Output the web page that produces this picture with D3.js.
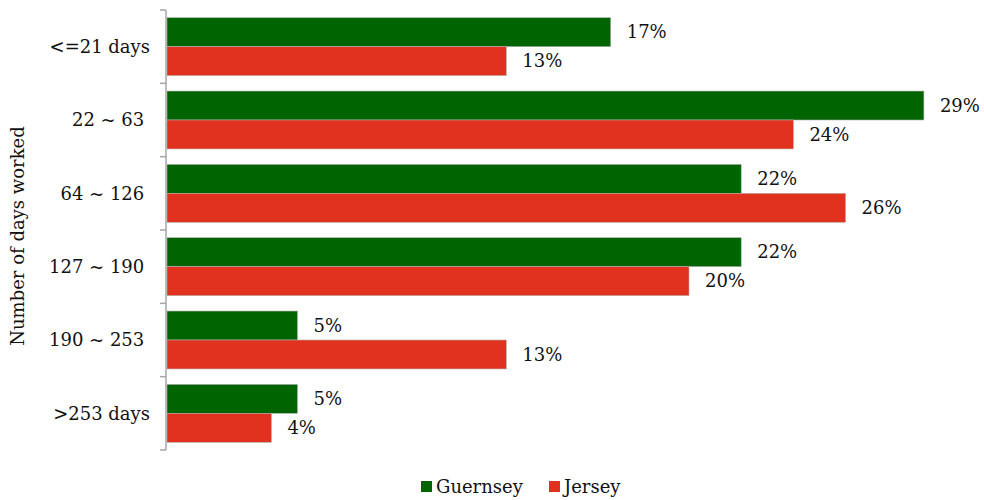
<!DOCTYPE html>
<html>
<head>
<meta charset="utf-8">
<script src="https://cdn.jsdelivr.net/npm/d3@7"></script>
<style>
  html, body { margin: 0; padding: 0; background: #fff; }
  svg text { font-family: "DejaVu Serif", serif; fill: #111; }
</style>
</head>
<body>
<svg id="chart" width="984" height="500"></svg>
<script>
// Share of workers by number of days worked
const categories = ["<=21 days", "22 ~ 63 ", "64 ~ 126 ", "127 ~ 190 ", "190 ~ 253 ", ">253 days"];
const seriesNames = ["Guernsey", "Jersey"];
const guernsey = [17, 29, 22, 22, 5, 5];
const jersey = [13, 24, 26, 20, 13, 4];
const colors = ["#006400", "#e0321f"];

const svg = d3.select("#chart");
const margin = { top: 10, left: 166, bottom: 50 };
const plotBottom = 450;
const xMax = 30;
const fontSize = 18;

const rows = categories.map((c, i) => ({ cat: c, values: [guernsey[i], jersey[i]] }));

const y = d3.scaleBand().domain(categories).range([margin.top, plotBottom]).paddingInner(0.21).paddingOuter(0.105);
const yBand = d3.scaleBand().domain(categories).range([margin.top, plotBottom]);
const ySub = d3.scaleBand().domain(seriesNames).range([0, y.bandwidth()]);
const x = d3.scaleLinear().domain([0, xMax]).range([margin.left + 1, margin.left + 1 + 26.1 * xMax]);

// bars
const groups = svg.append("g").selectAll("g").data(rows).join("g")
  .attr("transform", d => `translate(0,${y(d.cat)})`);

groups.selectAll("rect").data(d => d.values.map((v, k) => ({ v, s: seriesNames[k], k })))
  .join("rect")
  .attr("x", x(0))
  .attr("y", d => ySub(d.s))
  .attr("width", d => x(d.v) - x(0))
  .attr("height", ySub.bandwidth())
  .attr("fill", d => colors[d.k])
  .attr("stroke", "#b0b0b0")
  .attr("stroke-width", 0.6);

// value labels
groups.selectAll("text.val").data(d => d.values.map((v, k) => ({ v, s: seriesNames[k] })))
  .join("text")
  .attr("class", "val")
  .attr("x", d => x(d.v) + 16)
  .attr("y", d => ySub(d.s) + ySub.bandwidth() / 2)
  .attr("dy", "0.35em")
  .attr("font-size", fontSize)
  .text(d => d.v + "%");

// category axis with ticks between categories
const axisG = svg.append("g");
axisG.append("line")
  .attr("x1", margin.left).attr("x2", margin.left)
  .attr("y1", margin.top).attr("y2", plotBottom)
  .attr("stroke", "#a6a6a6").attr("stroke-width", 1.5);
const boundaries = categories.map(c => yBand(c)).concat([plotBottom]);
axisG.selectAll("line.tick").data(boundaries).join("line")
  .attr("class", "tick")
  .attr("x1", margin.left - 6).attr("x2", margin.left)
  .attr("y1", d => d).attr("y2", d => d)
  .attr("stroke", "#a6a6a6").attr("stroke-width", 1.5);

axisG.selectAll("text.cat").data(categories).join("text")
  .attr("class", "cat")
  .attr("x", 150)
  .attr("y", d => yBand(d) + yBand.bandwidth() / 2)
  .attr("dy", "0.35em")
  .attr("text-anchor", "end")
  .attr("font-size", fontSize)
  .style("white-space", "pre")
  .text(d => d);

// axis title
svg.append("text")
  .attr("transform", `translate(24,${(margin.top + plotBottom) / 2 + 6}) rotate(-90)`)
  .attr("text-anchor", "middle")
  .attr("font-size", fontSize)
  .text("Number of days worked");

// legend
const legend = svg.append("g").attr("transform", "translate(421,481)");
const legendX = [0, 128];
seriesNames.forEach((name, k) => {
  const g = legend.append("g").attr("transform", `translate(${legendX[k]},0)`);
  g.append("rect").attr("width", 11).attr("height", 11).attr("fill", colors[k]);
  g.append("text").attr("x", 15).attr("y", 6).attr("dy", "0.35em").attr("font-size", fontSize).text(name);
});
</script>
</body>
</html>
